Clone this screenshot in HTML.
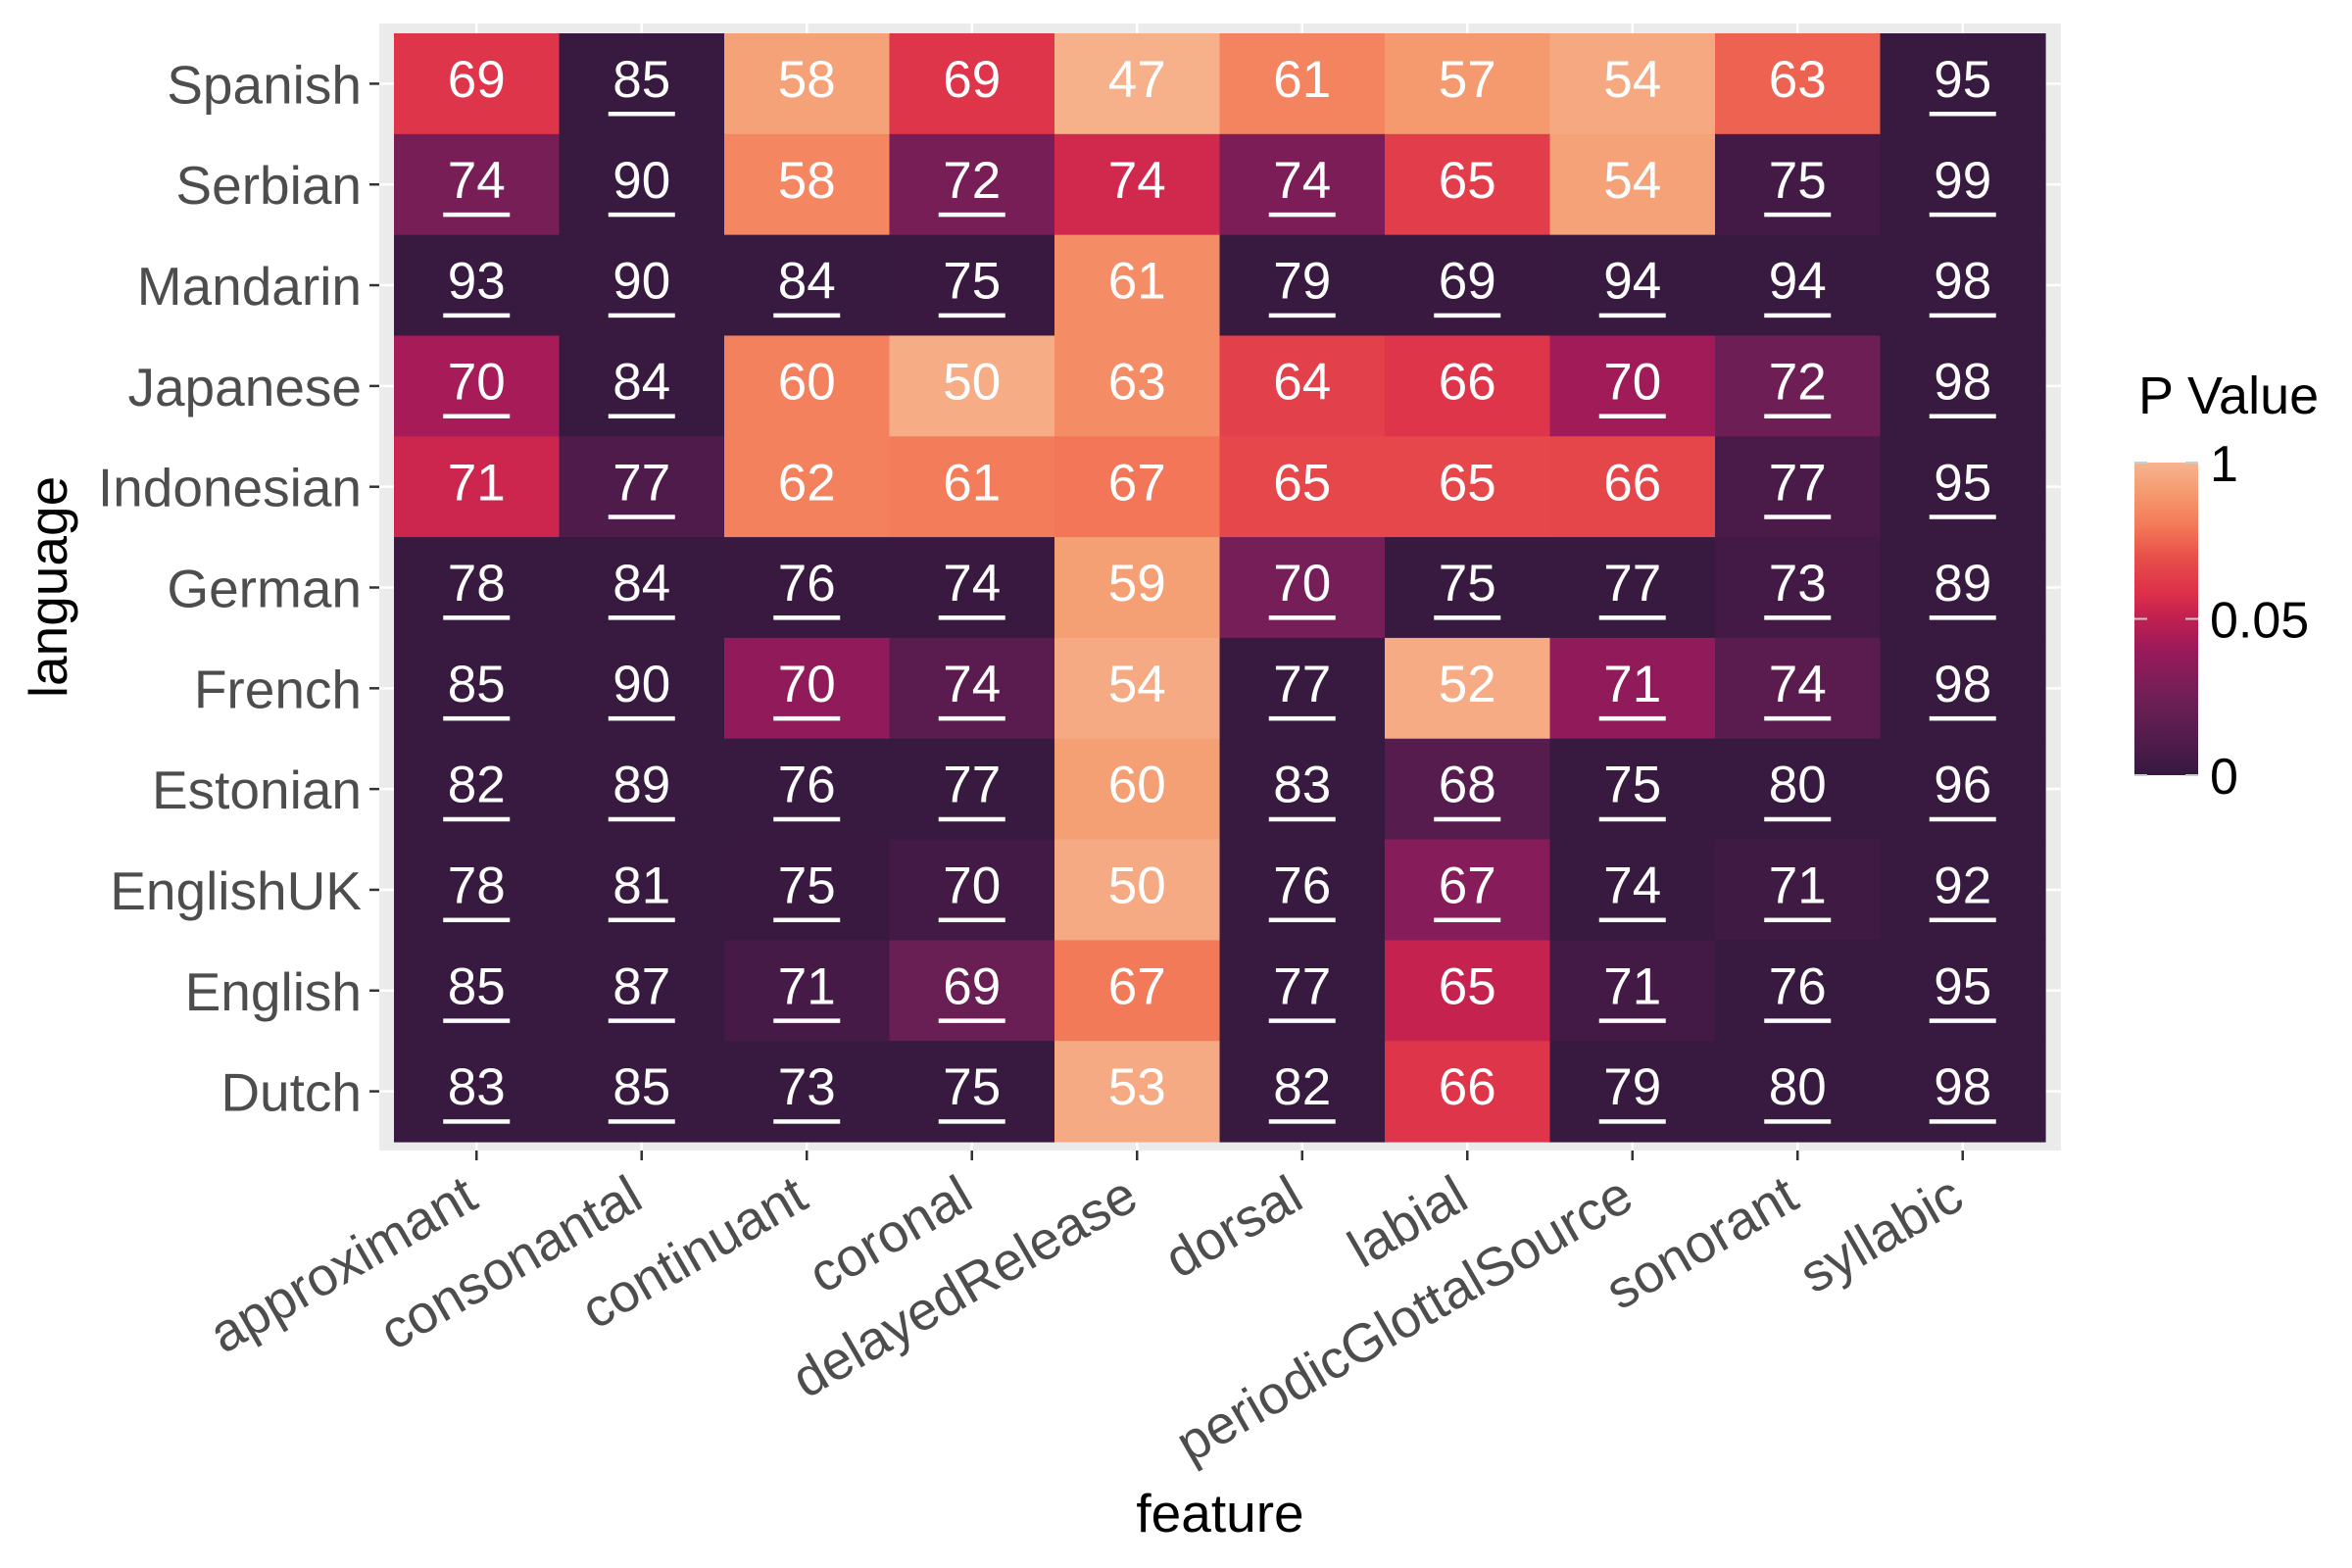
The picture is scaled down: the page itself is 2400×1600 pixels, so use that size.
<!DOCTYPE html>
<html><head><meta charset="utf-8"><style>
html,body{margin:0;padding:0;background:#fff;}
svg{display:block;font-family:"Liberation Sans",Arial,sans-serif;}
</style></head><body>
<svg id="chart" width="2400" height="1600" viewBox="0 0 2400 1600">
<defs>
<linearGradient id="lg" x1="0" y1="1" x2="0" y2="0">
<stop offset="0" stop-color="#35193e"/><stop offset="0.1" stop-color="#4f1b4b"/><stop offset="0.25" stop-color="#6f1f56"/><stop offset="0.4" stop-color="#9a1a5b"/><stop offset="0.5" stop-color="#c11f51"/><stop offset="0.58" stop-color="#dc2f4a"/><stop offset="0.7" stop-color="#e8504a"/><stop offset="0.8" stop-color="#f37a58"/><stop offset="0.9" stop-color="#f5996e"/><stop offset="1" stop-color="#f6b48f"/>
</linearGradient>
</defs>
<rect x="387" y="24" width="1716" height="1150" fill="#ebebeb"/>
<g id="grid"></g><g id="tiles"></g><g id="labels"></g><g id="axes"></g>
<text x="1245" y="1563" font-size="55" text-anchor="middle" fill="#000">feature</text>
<text transform="translate(68,599) rotate(-90)" font-size="55" text-anchor="middle" fill="#000">language</text>
<g>
<text x="2182" y="422" font-size="54" fill="#000">P Value</text>
<rect x="2178" y="472" width="65" height="319" fill="url(#lg)"/>
<g id="legticks"></g>
</g>
</svg>
<script>
const languages = ["Spanish","Serbian","Mandarin","Japanese","Indonesian","German","French","Estonian","EnglishUK","English","Dutch"];
const features = ["approximant","consonantal","continuant","coronal","delayedRelease","dorsal","labial","periodicGlottalSource","sonorant","syllabic"];
const scores = [
[69,85,58,69,47,61,57,54,63,95],
[74,90,58,72,74,74,65,54,75,99],
[93,90,84,75,61,79,69,94,94,98],
[70,84,60,50,63,64,66,70,72,98],
[71,77,62,61,67,65,65,66,77,95],
[78,84,76,74,59,70,75,77,73,89],
[85,90,70,74,54,77,52,71,74,98],
[82,89,76,77,60,83,68,75,80,96],
[78,81,75,70,50,76,67,74,71,92],
[85,87,71,69,67,77,65,71,76,95],
[83,85,73,75,53,82,66,79,80,98]];
const pvalues = [
[0.24,0.001,0.87,0.24,0.97,0.68,0.81,0.92,0.51,0.001],
[0.028,0.001,0.7,0.028,0.14,0.03,0.3,0.87,0.005,0.001],
[0.001,0.001,0.001,0.002,0.73,0.001,0.002,0.001,0.001,0.001],
[0.043,0.001,0.66,0.95,0.73,0.32,0.24,0.042,0.024,0.001],
[0.12,0.01,0.66,0.64,0.6,0.37,0.37,0.36,0.008,0.001],
[0.001,0.001,0.002,0.002,0.85,0.027,0.001,0.001,0.005,0.001],
[0.001,0.001,0.037,0.015,0.93,0.001,0.94,0.037,0.015,0.001],
[0.001,0.001,0.001,0.001,0.85,0.001,0.013,0.001,0.001,0.001],
[0.001,0.001,0.002,0.005,0.93,0.001,0.033,0.001,0.004,0.001],
[0.001,0.001,0.006,0.022,0.62,0.001,0.08,0.005,0.001,0.001],
[0.001,0.001,0.001,0.001,0.93,0.001,0.24,0.001,0.001,0.001]];
const legendTicks = [0,0.05,1];
const legendLabels = ["0","0.05","1"];

const NS="http://www.w3.org/2000/svg";
const X0=402, X1=2087, Y0=34, Y1=1165;
const cw=(X1-X0)/features.length, rh=(Y1-Y0)/languages.length;
const xPos=i=>X0+cw*i, yPos=j=>Y0+rh*j;
const stops=[[0,"#35193e"],[0.1,"#4f1b4b"],[0.25,"#6f1f56"],[0.4,"#9a1a5b"],[0.5,"#c11f51"],[0.58,"#dc2f4a"],[0.7,"#e8504a"],[0.8,"#f37a58"],[0.9,"#f5996e"],[1,"#f6b48f"]];
function pToT(p){return p<=0.05?0.5*p/0.05:0.5+0.5*(p-0.05)/0.95;}
function hex(c){return [1,3,5].map(k=>parseInt(c.substr(k,2),16));}
function color(p){const t=Math.max(0,Math.min(1,pToT(p)));
 for(let k=1;k<stops.length;k++){if(t<=stops[k][0]){const a=stops[k-1],b=stops[k];const f=(t-a[0])/(b[0]-a[0]);const ca=hex(a[1]),cb=hex(b[1]);
 return "rgb("+ca.map((v,i)=>Math.round(v+(cb[i]-v)*f)).join(",")+")";}}return stops[stops.length-1][1];}
function mk(tag,attrs,parent){const e=document.createElementNS(NS,tag);for(const k in attrs)e.setAttribute(k,attrs[k]);parent.appendChild(e);return e;}
const grid=document.getElementById("grid"),tiles=document.getElementById("tiles"),labels=document.getElementById("labels"),axes=document.getElementById("axes");
features.forEach((f,i)=>{const x=xPos(i)+cw/2;
 const g=mk("line",{x1:x,x2:x,y1:24,y2:1174,stroke:"#fff","stroke-width":2.5},grid);
 
 
 const t=mk("line",{x1:x,x2:x,y1:1174,y2:1184,stroke:"#333","stroke-width":2.5},axes);
 
 
 const lb=mk("text",{transform:"translate("+(x-16)+",1196) rotate(-30)","text-anchor":"end","font-size":55,fill:"#4d4d4d",dy:40},axes);
 lb.textContent=f;
 
 
});
languages.forEach((l,j)=>{const y=yPos(j)+rh/2;
 const g=mk("line",{x1:387,x2:2103,y1:y,y2:y,stroke:"#fff","stroke-width":2.5},grid);
 
 
 const t=mk("line",{x1:377,x2:387,y1:y,y2:y,stroke:"#333","stroke-width":2.5},axes);
 
 
 const lb=mk("text",{x:369,y:y+20,"text-anchor":"end","font-size":55,fill:"#4d4d4d"},axes);
 lb.textContent=l;
 
 
 features.forEach((f,i)=>{const p=pvalues[j][i];
  const r=mk("rect",{x:xPos(i),y:yPos(j),width:cw+0.6,height:rh+0.6,fill:color(p)},tiles);
  
  
  const cx=xPos(i)+cw/2;
  const tx=mk("text",{x:cx,y:yPos(j)+65,"text-anchor":"middle","font-size":53,fill:"#fff"},labels);
  tx.textContent=scores[j][i];
  
  
  if(p<0.05){const u=mk("rect",{x:cx-34,y:yPos(j)+80,width:68,height:4.5,fill:"#fff"},labels);
   
   }
 });
});
const lt=document.getElementById("legticks");
legendTicks.forEach((v,k)=>{const y=791-319*pToT(v);
 [[2178,2191],[2230,2243]].forEach(s=>{const l=mk("line",{x1:s[0],x2:s[1],y1:y,y2:y,stroke:"#cccccc","stroke-width":2},lt);
  
  });
 const t=mk("text",{x:2255,y:y+19,"font-size":52,fill:"#000"},lt);
 t.textContent=legendLabels[k];
 
 
});
</script>
</body></html>
